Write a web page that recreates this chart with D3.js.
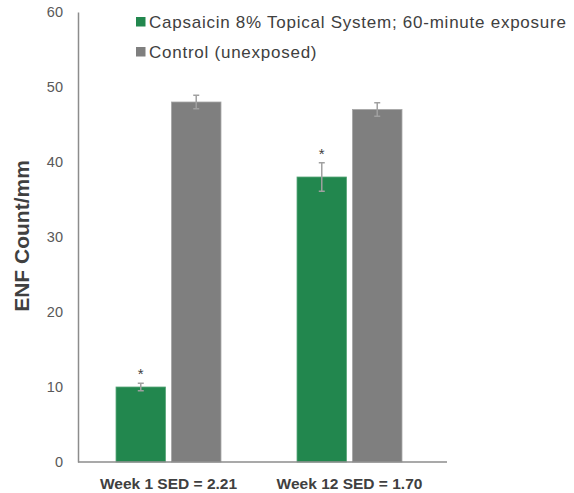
<!DOCTYPE html>
<html>
<head>
<meta charset="utf-8">
<script src="https://cdn.jsdelivr.net/npm/d3@7"></script>
<style>
  body { margin: 0; background: #fff; }
  svg text { font-family: "Liberation Sans", Arial, sans-serif; }
</style>
</head>
<body>
<div id="chart"></div>
<script>
var categories = ['Week 1 SED = 2.21', 'Week 12 SED = 1.70'];
var seriesNames = ['Capsaicin 8% Topical System; 60-minute exposure', 'Control (unexposed)'];
var capsaicinValues = [10, 38];
var capsaicinErrors = [0.5, 1.9];
var controlValues = [48, 47];
var controlErrors = [0.9, 0.9];
var significant = [true, true];
var yTicks = [0, 10, 20, 30, 40, 50, 60];

var width = 574, height = 493,
    plotLeft = 78, plotRight = 447, plotTop = 12, plotBottom = 462,
    colors = ['#22874e', '#7f7f7f'];

var svg = d3.select('#chart')
            .append('svg')
              .attr('width', width)
              .attr('height', height);

var y = d3.scaleLinear().domain([0, 60]).range([plotBottom, plotTop]);
var x0 = d3.scaleBand().domain(categories).range([plotLeft, 440])
           .paddingInner(0.42).paddingOuter(0.21);
var x1 = d3.scaleBand().domain([0, 1]).range([0, x0.bandwidth()]).paddingInner(0.107);

// y axis
svg.append('g')
   .attr('transform', 'translate(' + plotLeft + ',0)')
   .call(d3.axisLeft(y).tickValues(yTicks).tickSize(0).tickPadding(15))
   .call(function(g) {
     g.select('.domain').attr('stroke', '#8c8c8c').attr('stroke-width', 1.5);
     g.selectAll('text').attr('fill', '#595959').style('font-size', '14.5px');
   });

svg.append('text')
   .attr('transform', 'translate(29,236) rotate(-90)')
   .attr('text-anchor', 'middle')
   .attr('fill', '#404040')
   .style('font-size', '21px')
   .style('font-weight', 'bold')
   .text('ENF Count/mm');

var data = [
  { values: capsaicinValues, errors: capsaicinErrors },
  { values: controlValues, errors: controlErrors }
];

data.forEach(function(s, si) {
  var g = svg.append('g');
  g.selectAll('rect')
   .data(categories)
   .enter()
   .append('rect')
     .attr('x', function(d) { return x0(d) + x1(si); })
     .attr('y', function(d, i) { return y(s.values[i]); })
     .attr('width', x1.bandwidth())
     .attr('height', function(d, i) { return y(0) - y(s.values[i]); })
     .attr('fill', colors[si])
     .attr('stroke', si === 0 ? '#5aa77a' : '#a6a6a6')
     .attr('stroke-width', 0.8);

  var cx = function(d) { return x0(d) + x1(si) + x1.bandwidth() / 2; };
  var eb = g.selectAll('.err')
   .data(categories)
   .enter()
   .append('g')
   .attr('class', 'err')
   .attr('stroke', '#a0a0a0')
   .attr('stroke-width', 1.5);
  eb.append('line')
    .attr('x1', cx).attr('x2', cx)
    .attr('y1', function(d, i) { return y(s.values[i] + s.errors[i]); })
    .attr('y2', function(d, i) { return y(s.values[i] - s.errors[i]); });
  [1, -1].forEach(function(sign) {
    eb.append('line')
      .attr('x1', function(d) { return cx(d) - 3; })
      .attr('x2', function(d) { return cx(d) + 3; })
      .attr('y1', function(d, i) { return y(s.values[i] + sign * s.errors[i]); })
      .attr('y2', function(d, i) { return y(s.values[i] + sign * s.errors[i]); });
  });
});

// significance marks
svg.selectAll('.star')
   .data(categories)
   .enter()
   .append('text')
     .attr('class', 'star')
     .attr('x', function(d) { return x0(d) + x1(0) + x1.bandwidth() / 2; })
     .attr('y', function(d, i) { return y(capsaicinValues[i] + capsaicinErrors[i]) - 4; })
     .attr('text-anchor', 'middle')
     .attr('fill', '#404040')
     .style('font-size', '15px')
     .text(function(d, i) { return significant[i] ? '*' : ''; });

// x axis
svg.append('line')
   .attr('x1', plotLeft).attr('x2', plotRight)
   .attr('y1', plotBottom).attr('y2', plotBottom)
   .attr('stroke', '#8c8c8c').attr('stroke-width', 1.5);

svg.selectAll('.xlab')
   .data(categories)
   .enter()
   .append('text')
     .attr('class', 'xlab')
     .attr('x', function(d) { return x0(d) + x0.bandwidth() / 2; })
     .attr('y', 489)
     .attr('text-anchor', 'middle')
     .attr('fill', '#404040')
     .style('font-size', '15.5px')
     .style('font-weight', 'bold')
     .text(function(d) { return d; });

// legend
var legend = svg.selectAll('.legend-key')
                .data(seriesNames)
                .enter()
                .append('g')
                .attr('class', 'legend-key')
                .attr('transform', function(d, i) { return 'translate(136,' + (17 + i * 30) + ')'; });
legend.append('rect')
      .attr('width', 9.5)
      .attr('height', 9.5)
      .attr('fill', function(d, i) { return colors[i]; });
legend.append('text')
      .attr('x', 13)
      .attr('y', 10.5)
      .attr('fill', '#404040')
      .style('font-size', '17px')
      .style('letter-spacing', '0.75px')
      .text(function(d) { return d; });
</script>
</body>
</html>
